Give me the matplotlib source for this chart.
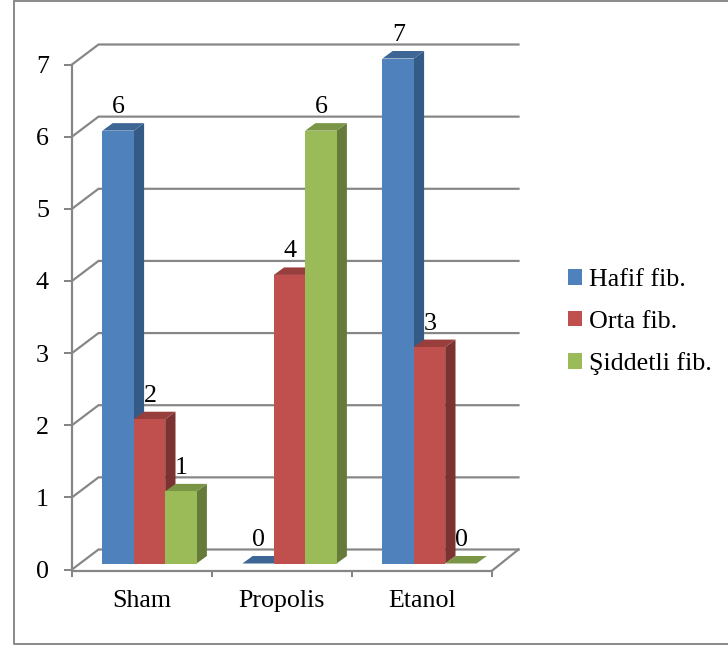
import matplotlib
matplotlib.use("Agg")
import matplotlib.pyplot as plt
from matplotlib.patches import Polygon, Patch
from matplotlib.lines import Line2D

categories = ["Sham", "Propolis", "Etanol"]
series_names = ["Hafif fib.", "Orta fib.", "Şiddetli fib."]
hafif = [6, 0, 7]
orta = [2, 4, 3]
siddetli = [1, 6, 0]
y_ticks = [0, 1, 2, 3, 4, 5, 6, 7]

front_colors = ["#4F81BD", "#C0504D", "#9BBB59"]
top_colors = ["#3E6695", "#983F3D", "#7B9546"]
side_colors = ["#345A86", "#7C3231", "#667B39"]
GRID = "#868686"

W, H = 728, 646
DPI = 100
PX = 72 / DPI  # points per pixel
FONT = 26 * PX

plt.rcParams["font.family"] = ["Liberation Serif", "DejaVu Serif"]
fig = plt.figure(figsize=(W / DPI, H / DPI), dpi=DPI, facecolor="white")

# Front plane of the pseudo-3D plot box
L, R, T, B = 72, 492, 64.5, 569.5
ax = fig.add_axes([L / W, 1 - B / H, (R - L) / W, (B - T) / H])
ax.set_xlim(0, 3)
ax.set_ylim(0, 7)
ax.patch.set_visible(False)
ux = 3 / (R - L)   # x data units per pixel
uy = 7 / (B - T)   # y data units per pixel

# Outer chart border (open on the right)
fig.add_artist(Line2D([13.5 / W, 13.5 / W, 1], [1 - 0.5 / H, 1 - 644 / H, 1 - 644 / H],
                      color="#8C8C8C", lw=2 * PX))
fig.add_artist(Line2D([13.5 / W, 1], [1 - 0.5 / H, 1 - 0.5 / H], color="#8C8C8C", lw=2 * PX))

# Back wall gridlines and the left wall slants
wall_dx, wall_dy = 26.5 * ux, 20 * uy
for v in y_ticks:
    ax.plot([0, wall_dx, 3 + wall_dx], [v, v + wall_dy, v + wall_dy],
            color=GRID, lw=2.2 * PX, clip_on=False, zorder=1, solid_joinstyle="miter")
ax.plot([3, 3 + wall_dx], [-1.2 * uy, wall_dy], color=GRID, lw=2.2 * PX, clip_on=False, zorder=1)

for side in ("top", "right"):
    ax.spines[side].set_visible(False)
for side in ("left", "bottom"):
    ax.spines[side].set_color(GRID)
    ax.spines[side].set_linewidth(2.2 * PX)
ax.spines["bottom"].set_position(("outward", 1.2 * PX))

ax.set_yticks(y_ticks)
ax.set_xticks([0, 1, 2, 3])
ax.set_xticklabels([])
ax.set_xticks([0.5, 1.5, 2.5], categories, minor=True)
ax.tick_params(axis="y", length=8 * PX, width=2 * PX, color=GRID, pad=15 * PX, labelsize=FONT)
ax.tick_params(axis="x", which="major", length=6 * PX, width=2 * PX, color=GRID)
ax.tick_params(axis="x", which="minor", length=0, pad=19 * PX, labelsize=FONT)

# Bars stand slightly inside the floor, with their own small depth
plane_dx, plane_dy = 7.5 * ux, 6 * uy
bar_w = 31.4 * ux
depth_dx, depth_dy = 10.3 * ux, 7.5 * uy
all_values = [hafif, orta, siddetli]

for g in range(len(categories)):
    start = g + 0.5 - 1.5 * bar_w + plane_dx
    for s, values in enumerate(all_values):
        v = values[g]
        x0 = start + s * bar_w
        x1 = x0 + bar_w
        y0 = plane_dy
        y1 = v + plane_dy
        z = 3 + g * 3 + s
        ax.add_patch(Polygon([(x1, y0), (x1 + depth_dx, y0 + depth_dy),
                              (x1 + depth_dx, y1 + depth_dy), (x1, y1)],
                             fc=side_colors[s], ec="none", clip_on=False, zorder=z))
        ax.add_patch(Polygon([(x0, y1), (x0 + depth_dx, y1 + depth_dy),
                              (x1 + depth_dx, y1 + depth_dy), (x1, y1)],
                             fc=top_colors[s], ec="none", clip_on=False, zorder=z))
        if v > 0:
            ax.add_patch(Polygon([(x0, y0), (x1, y0), (x1, y1), (x0, y1)],
                                 fc=front_colors[s], ec="none", clip_on=False, zorder=z))
        ax.annotate(str(v), xy=((x0 + x1) / 2, y1), xytext=(0.5 * PX, 17.5 * PX),
                    textcoords="offset points", ha="center", va="baseline",
                    fontsize=FONT, color="black", zorder=30, annotation_clip=False)

handles = [Patch(fc=c, ec="none") for c in front_colors]
fig.legend(handles, series_names, loc="center left",
           bbox_to_anchor=(568 / W, 1 - 322 / H), frameon=False, fontsize=FONT,
           handlelength=14 / 26, handleheight=14 / 26, handletextpad=7 / 26,
           labelspacing=0.75, borderpad=0, borderaxespad=0)

fig.savefig("out.png", dpi=DPI, facecolor="white")
